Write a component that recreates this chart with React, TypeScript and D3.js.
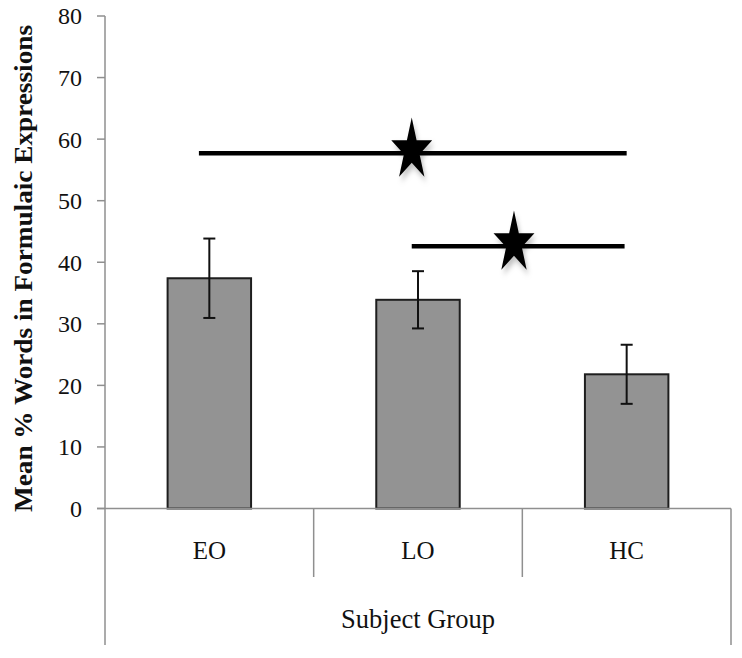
import * as d3 from "d3";
import { useEffect, useRef } from "react";

const width = 742;
const height = 658;

const groups = ["EO", "LO", "HC"];
const means = [37.4, 33.9, 21.8];
const errors = [6.45, 4.65, 4.8];
const yTicks = [0, 10, 20, 30, 40, 50, 60, 70, 80];

// significance bars: start / end / star in category index units, y in data units
const sigFrom = [-0.05, 0.97];
const sigTo = [2.0, 1.99];
const sigStar = [0.97, 1.46];
const sigY = [57.7, 42.6];

const yTitle = "Mean % Words in Formulaic Expressions";
const xTitle = "Subject Group";

const axisColor = "#8f8f8f";
const serif = "'Liberation Serif', 'DejaVu Serif', serif";

export default function App() {
  const svgRef = useRef<SVGSVGElement>(null);

  useEffect(() => {
    const svg = d3.select(svgRef.current);
    svg.selectAll("*").remove();

    const left = 105;
    const right = 731;
    const y = d3.scaleLinear().domain([0, 80]).range([508.5, 16]);
    const x = d3.scaleBand().domain(groups).range([left, right]).padding(0);
    const xi = d3.scaleLinear().domain([-0.5, groups.length - 0.5]).range([left, right]);
    const barW = x.bandwidth() * 0.4;

    const defs = svg.append("defs");
    defs
      .append("filter")
      .attr("id", "shadow")
      .attr("x", "-30%")
      .attr("y", "-30%")
      .attr("width", "160%")
      .attr("height", "160%")
      .append("feDropShadow")
      .attr("dx", 2)
      .attr("dy", 3)
      .attr("stdDeviation", 2)
      .attr("flood-color", "#000")
      .attr("flood-opacity", 0.25);

    // y axis line + ticks
    svg
      .append("line")
      .attr("x1", left)
      .attr("x2", left)
      .attr("y1", y(80))
      .attr("y2", y(0))
      .attr("stroke", axisColor)
      .attr("stroke-width", 1.5);

    const ticks = svg.append("g");
    ticks
      .selectAll("line")
      .data(yTicks)
      .enter()
      .append("line")
      .attr("x1", left - 8)
      .attr("x2", left)
      .attr("y1", (d) => y(d))
      .attr("y2", (d) => y(d))
      .attr("stroke", axisColor)
      .attr("stroke-width", 1.5);
    ticks
      .selectAll("text")
      .data(yTicks)
      .enter()
      .append("text")
      .attr("x", 82)
      .attr("y", (d) => y(d))
      .attr("dy", "0.35em")
      .attr("text-anchor", "end")
      .style("font-family", serif)
      .style("font-size", "24px")
      .style("fill", "#111")
      .text((d) => d);

    svg
      .append("text")
      .attr("transform", `translate(32, 268.5) rotate(-90)`)
      .attr("text-anchor", "middle")
      .attr("textLength", 487)
      .attr("lengthAdjust", "spacingAndGlyphs")
      .style("font-family", serif)
      .style("font-weight", "bold")
      .style("font-size", "26px")
      .style("fill", "#111")
      .text(yTitle);

    // bars
    svg
      .append("g")
      .selectAll("rect")
      .data(groups)
      .enter()
      .append("rect")
      .attr("x", (d) => x(d)! + (x.bandwidth() - barW) / 2)
      .attr("y", (d, i) => y(means[i]))
      .attr("width", barW)
      .attr("height", (d, i) => y(0) - y(means[i]))
      .attr("fill", "#939393")
      .attr("stroke", "#1e1e1e")
      .attr("stroke-width", 2);

    // error bars
    const eb = svg.append("g").attr("stroke", "#111").attr("stroke-width", 2);
    groups.forEach((g, i) => {
      const cx = x(g)! + x.bandwidth() / 2;
      const top = y(means[i] + errors[i]);
      const bot = y(means[i] - errors[i]);
      eb.append("line").attr("x1", cx).attr("x2", cx).attr("y1", top).attr("y2", bot);
      eb.append("line").attr("x1", cx - 6).attr("x2", cx + 6).attr("y1", top).attr("y2", top);
      eb.append("line").attr("x1", cx - 6).attr("x2", cx + 6).attr("y1", bot).attr("y2", bot);
    });

    // x axis with category boxes
    const axisG = svg.append("g").attr("stroke", axisColor).attr("stroke-width", 1.5);
    axisG
      .append("line")
      .attr("x1", left - 8)
      .attr("x2", right)
      .attr("y1", y(0))
      .attr("y2", y(0));
    axisG
      .selectAll(".outer")
      .data([left, right])
      .enter()
      .append("line")
      .attr("x1", (d) => d)
      .attr("x2", (d) => d)
      .attr("y1", y(0))
      .attr("y2", 645);
    axisG
      .selectAll(".sep")
      .data(groups.slice(1))
      .enter()
      .append("line")
      .attr("x1", (d) => x(d)!)
      .attr("x2", (d) => x(d)!)
      .attr("y1", y(0))
      .attr("y2", 577);

    svg
      .append("g")
      .selectAll("text")
      .data(groups)
      .enter()
      .append("text")
      .attr("x", (d) => x(d)! + x.bandwidth() / 2)
      .attr("y", 559)
      .attr("text-anchor", "middle")
      .style("font-family", serif)
      .style("font-size", "25px")
      .style("fill", "#111")
      .text((d) => d);

    svg
      .append("text")
      .attr("x", (left + right) / 2)
      .attr("y", 628)
      .attr("text-anchor", "middle")
      .style("font-family", serif)
      .style("font-size", "26.5px")
      .style("fill", "#111")
      .text(xTitle);

    // significance lines + stars
    const sig = svg.append("g");
    sigY.forEach((v, i) => {
      sig
        .append("line")
        .attr("x1", xi(sigFrom[i]))
        .attr("x2", xi(sigTo[i]))
        .attr("y1", y(v))
        .attr("y2", y(v))
        .attr("stroke", "#000")
        .attr("stroke-width", 4.5);
      const star = d3.symbol().type(d3.symbolStar).size(520);
      sig
        .append("path")
        .attr("d", star()!)
        .attr("transform", `translate(${xi(sigStar[i])}, ${y(v) - 3}) scale(1, 1.52)`)
        .attr("fill", "#000")
        .attr("filter", "url(#shadow)");
    });
  }, []);

  return (
    <svg
      ref={svgRef}
      width={width}
      height={height}
      style={{ position: "absolute", left: 0, top: 0, background: "#fff" }}
    ></svg>
  );
}
